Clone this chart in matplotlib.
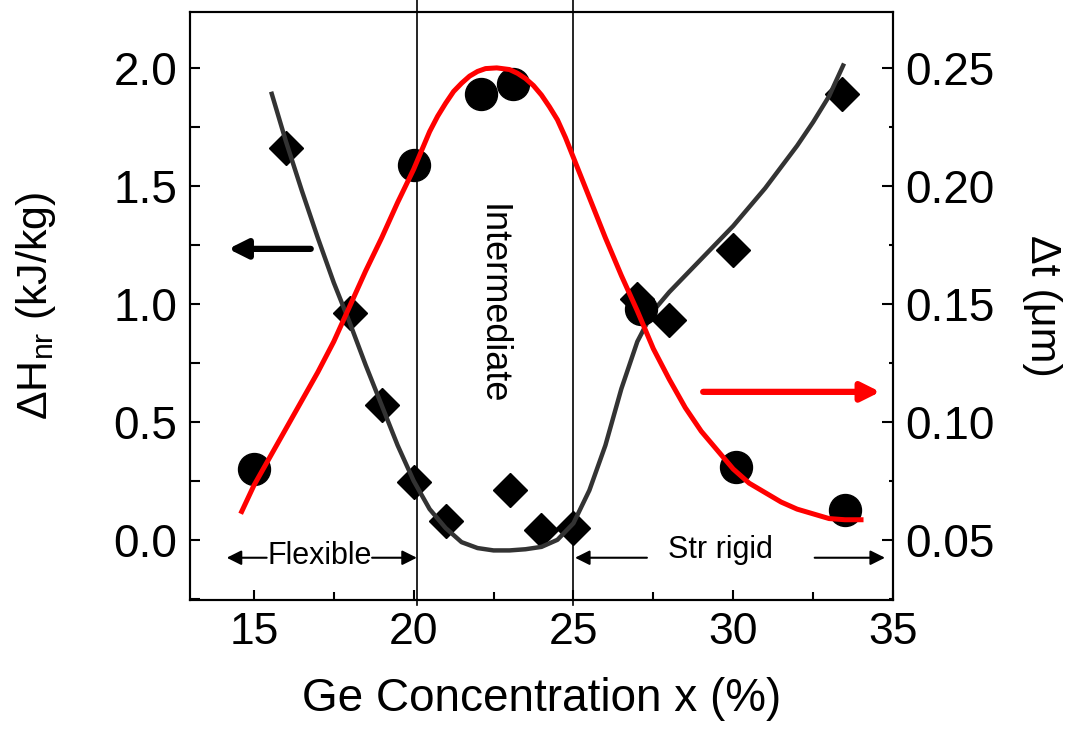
import matplotlib
matplotlib.use('Agg')
from matplotlib import pyplot as plt
from matplotlib.ticker import MultipleLocator

plt.rcParams['font.family'] = ['Liberation Sans', 'DejaVu Sans']
plt.rcParams['mathtext.fontset'] = 'custom'
plt.rcParams['mathtext.rm'] = 'Liberation Sans'
plt.rcParams['mathtext.it'] = 'Liberation Sans:italic'

# measured points: non-reversing enthalpy (left axis, diamonds)
ge_dh = [16, 18, 19, 20, 21, 23, 24, 25, 27, 28, 30, 33.4]
dh_nr = [1.66, 0.96, 0.57, 0.245, 0.08, 0.21, 0.04, 0.05, 1.02, 0.93, 1.23, 1.89]

# measured points: thickness change (right axis, circles)
ge_dt = [15, 20, 22.1, 23.1, 27.1, 30.1, 33.5]
dt_um = [0.080, 0.209, 0.239, 0.243, 0.148, 0.081, 0.0625]

# guide-to-the-eye curves
fit_dh_x = [15.56, 16.0, 16.5, 17.0, 17.5, 18.0, 18.5, 19.0, 19.5, 20.0, 20.5, 21.0,
            21.5, 22.0, 22.5, 23.0, 23.5, 24.0, 24.5, 25.0, 25.5, 26.0, 26.5, 27.0,
            27.5, 28.0, 28.5, 29.0, 29.5, 30.0, 30.5, 31.0, 31.5, 32.0, 32.5, 33.0, 33.44]
fit_dh_y = [1.89, 1.69, 1.48, 1.28, 1.09, 0.92, 0.74, 0.57, 0.40, 0.25, 0.13, 0.05,
            -0.01, -0.035, -0.045, -0.045, -0.04, -0.03, 0.0, 0.07, 0.21, 0.40, 0.64, 0.84,
            0.97, 1.05, 1.12, 1.19, 1.26, 1.33, 1.41, 1.49, 1.58, 1.67, 1.77, 1.88, 2.01]

fit_dt_x = [14.62, 15.0, 15.5, 16.0, 16.5, 17.0, 17.5, 18.0, 18.5, 19.0, 19.5, 20.0,
            20.5, 20.75, 21.0, 21.25, 21.5, 21.75, 22.0, 22.25, 22.6, 23.0, 23.25, 23.5,
            23.75, 24.0, 24.25, 24.5, 24.75, 25.0, 25.5, 26.0,
            26.5, 27.0, 27.5, 28.0, 28.5, 29.0, 29.5, 30.0, 30.5, 31.0, 31.5, 32.0,
            32.5, 33.0, 33.5, 34.0]
fit_dt_y = [0.062, 0.073, 0.085, 0.097, 0.109, 0.121, 0.134, 0.149, 0.164, 0.178, 0.193, 0.207,
            0.223, 0.2295, 0.235, 0.240, 0.2435, 0.2465, 0.2485, 0.2497, 0.250, 0.2493, 0.2477, 0.2455,
            0.2425, 0.2385, 0.2335, 0.228, 0.2205, 0.212, 0.195, 0.178,
            0.162, 0.147, 0.131, 0.118, 0.106, 0.096, 0.088, 0.080, 0.074, 0.070, 0.066, 0.063,
            0.061, 0.059, 0.0585, 0.0585]

fig = plt.figure(figsize=(10.72, 7.34), dpi=100)
ax = fig.add_axes([0.1772, 0.1826, 0.6558, 0.8011])
ax2 = ax.twinx()

# left axis: diamonds + dark curve
ax.plot(ge_dh, dh_nr, 'D', color='black', markersize=17, zorder=2)
ax.plot(fit_dh_x, fit_dh_y, '-', color='#333333', lw=3.2, zorder=3)

# right axis: circles + red curve
ax2.plot(ge_dt, dt_um, 'o', color='black', markersize=23, zorder=2)
ax2.plot(fit_dt_x, fit_dt_y, '-', color='red', lw=3.6, zorder=3)

ax.set_xlim(13, 35)
ax.set_ylim(-0.255, 2.237)
ax2.set_ylim(0.0245, 0.2737)

# region boundaries
for xv in (20.1, 25.0):
    ax.axvline(xv, ymin=-0.008, ymax=1.02, color='black', lw=1.2, clip_on=False, zorder=1)

ax.xaxis.set_major_locator(MultipleLocator(5))
ax.xaxis.set_minor_locator(MultipleLocator(2.5))
ax.yaxis.set_major_locator(MultipleLocator(0.5))
ax.yaxis.set_minor_locator(MultipleLocator(0.25))
ax.yaxis.set_major_formatter(plt.FormatStrFormatter('%.1f'))
ax2.yaxis.set_major_locator(MultipleLocator(0.05))
ax2.yaxis.set_minor_locator(MultipleLocator(0.025))
ax2.yaxis.set_major_formatter(plt.FormatStrFormatter('%.2f'))

ax.tick_params(axis='x', which='major', direction='in', length=7, width=1.5,
               labelsize=32, pad=9, top=False)
ax.tick_params(axis='x', which='minor', direction='in', length=5.5, width=1.5, top=False)
ax.tick_params(axis='y', which='both', direction='in', length=7, width=1.5, right=False)
ax.tick_params(axis='y', which='major', labelsize=33, pad=9)
ax2.tick_params(axis='y', which='major', direction='in', length=8, width=1.5,
                labelsize=33, pad=9)
ax2.tick_params(axis='y', which='minor', direction='in', length=3, width=1.5)

for a in (ax, ax2):
    for s in a.spines.values():
        s.set_linewidth(1.5)

ax.set_xlabel('Ge Concentration x (%)', fontsize=33, labelpad=17)
ax.set_ylabel('ΔH$_{\\mathrm{nr}}$ (kJ/kg)', fontsize=31, labelpad=40)
ax2.set_ylabel('Δt (μm)', fontsize=31, rotation=270, labelpad=48)

# region labels
ax.text(22.45, 1.0, 'Intermediate', rotation=-90, fontsize=26,
        ha='center', va='center')
ax.text(17.07, -0.07, 'Flexible', fontsize=22, ha='center', va='center')
ax.text(29.6, -0.045, 'Str rigid', fontsize=22, ha='center', va='center')

thin = dict(arrowstyle='-|>', color='black', lw=1.5, mutation_scale=22,
            shrinkA=0, shrinkB=0)
ax.annotate('', xy=(14.15, -0.076), xytext=(15.4, -0.076), arrowprops=thin)
ax.annotate('', xy=(20.1, -0.076), xytext=(18.7, -0.076), arrowprops=thin)
ax.annotate('', xy=(25.05, -0.076), xytext=(27.3, -0.076), arrowprops=thin)
ax.annotate('', xy=(34.75, -0.076), xytext=(32.55, -0.076), arrowprops=thin)

# axis pointers
ax.annotate('', xy=(14.2, 1.233), xytext=(16.78, 1.233),
            arrowprops=dict(arrowstyle='-|>', color='black', lw=4.5,
                            mutation_scale=28, shrinkA=0, shrinkB=0))
ax.annotate('', xy=(34.6, 0.627), xytext=(29.06, 0.627),
            arrowprops=dict(arrowstyle='-|>', color='red', lw=4.5,
                            mutation_scale=28, shrinkA=0, shrinkB=0))

fig.savefig('out.png', dpi=100)
